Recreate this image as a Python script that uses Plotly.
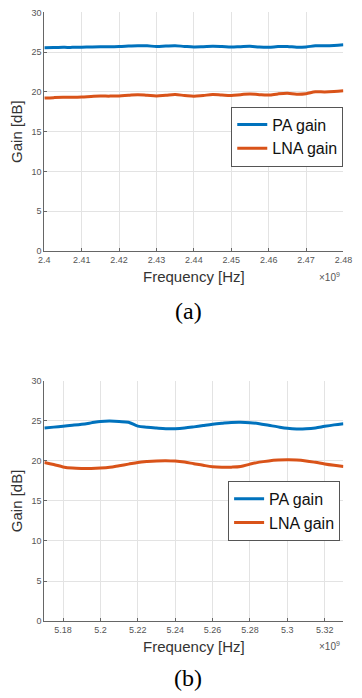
import plotly.graph_objects as go

# ---------------- data (a) 2.4 GHz band ----------------
freq_a_ghz = [2.4000, 2.4025, 2.4050, 2.4075, 2.4100, 2.4125, 2.4150, 2.4175, 2.4200,
              2.4225, 2.4250, 2.4275, 2.4300, 2.4325, 2.4350, 2.4375, 2.4400, 2.4425,
              2.4450, 2.4475, 2.4500, 2.4525, 2.4550, 2.4575, 2.4600, 2.4625, 2.4650,
              2.4675, 2.4700, 2.4725, 2.4750, 2.4775, 2.4800]
pa_gain_a = [25.55, 25.58, 25.60, 25.60, 25.63, 25.66, 25.68, 25.67, 25.70,
             25.76, 25.82, 25.79, 25.72, 25.77, 25.81, 25.72, 25.65, 25.68,
             25.73, 25.70, 25.64, 25.69, 25.73, 25.64, 25.61, 25.70, 25.72,
             25.62, 25.66, 25.80, 25.80, 25.84, 25.92]
lna_gain_a = [19.22, 19.28, 19.32, 19.32, 19.35, 19.42, 19.48, 19.47, 19.50,
              19.58, 19.65, 19.58, 19.50, 19.58, 19.66, 19.55, 19.45, 19.55,
              19.66, 19.60, 19.55, 19.65, 19.75, 19.65, 19.60, 19.75, 19.82,
              19.72, 19.78, 20.02, 20.00, 20.05, 20.15]
ticks_a = [2.40, 2.41, 2.42, 2.43, 2.44, 2.45, 2.46, 2.47, 2.48]
ticklabels_a = ["2.4", "2.41", "2.42", "2.43", "2.44", "2.45", "2.46", "2.47", "2.48"]

# ---------------- data (b) 5 GHz band ----------------
freq_b_ghz = [5.170, 5.175, 5.180, 5.185, 5.190, 5.195, 5.200, 5.205, 5.210, 5.215,
              5.220, 5.225, 5.230, 5.235, 5.240, 5.245, 5.250, 5.255, 5.260, 5.265,
              5.270, 5.275, 5.280, 5.285, 5.290, 5.295, 5.300, 5.305, 5.310, 5.315,
              5.320, 5.325, 5.330]
pa_gain_b = [24.10, 24.22, 24.33, 24.45, 24.58, 24.75, 24.93, 24.97, 24.92, 24.82,
             24.35, 24.20, 24.10, 24.02, 24.02, 24.10, 24.25, 24.42, 24.58, 24.70,
             24.80, 24.82, 24.78, 24.65, 24.45, 24.25, 24.08, 24.00, 24.02, 24.12,
             24.32, 24.50, 24.65]
lna_gain_b = [19.80, 19.55, 19.25, 19.10, 19.05, 19.05, 19.10, 19.20, 19.40, 19.60,
              19.80, 19.92, 20.00, 20.03, 19.98, 19.85, 19.65, 19.45, 19.28, 19.22,
              19.22, 19.30, 19.60, 19.85, 20.00, 20.10, 20.15, 20.12, 20.00, 19.82,
              19.62, 19.45, 19.30]
ticks_b = [5.18, 5.20, 5.22, 5.24, 5.26, 5.28, 5.30, 5.32]
ticklabels_b = ["5.18", "5.2", "5.22", "5.24", "5.26", "5.28", "5.3", "5.32"]

y_ticks = [0, 5, 10, 15, 20, 25, 30]

BLUE = "#0072BD"
ORANGE = "#D95319"
W, H = 362, 698

fig = go.Figure()
line_w = 3

fig.add_trace(go.Scatter(x=freq_a_ghz, y=pa_gain_a, mode="lines", name="PA gain",
                         line=dict(color=BLUE, width=line_w, shape="spline"),
                         xaxis="x", yaxis="y", legend="legend"))
fig.add_trace(go.Scatter(x=freq_a_ghz, y=lna_gain_a, mode="lines", name="LNA gain",
                         line=dict(color=ORANGE, width=line_w, shape="spline"),
                         xaxis="x", yaxis="y", legend="legend"))
fig.add_trace(go.Scatter(x=freq_b_ghz, y=pa_gain_b, mode="lines", name="PA gain",
                         line=dict(color=BLUE, width=line_w, shape="spline"),
                         xaxis="x2", yaxis="y2", legend="legend2"))
fig.add_trace(go.Scatter(x=freq_b_ghz, y=lna_gain_b, mode="lines", name="LNA gain",
                         line=dict(color=ORANGE, width=line_w, shape="spline"),
                         xaxis="x2", yaxis="y2", legend="legend2"))

x0, x1 = 40 / W, 352 / W
ya = [1 - 249.5 / H, 1 - 7.5 / H]
yb = [1 - 625 / H, 1 - 381.3 / H]

tickfont = dict(family="Liberation Sans, Arial", size=9, color="#555555")
titlefont = dict(family="Liberation Sans, Arial", size=15, color="#333333")

common_x = dict(showgrid=True, gridcolor="#e3e3e3", gridwidth=1, zeroline=False,
                showline=True, linecolor="#666666", linewidth=1, ticks="inside",
                ticklen=3, tickcolor="#666666", tickfont=tickfont,
                title=dict(text="Frequency [Hz]", font=titlefont, standoff=7))
common_y = dict(showgrid=True, gridcolor="#e3e3e3", gridwidth=1, zeroline=False,
                showline=True, linecolor="#666666", linewidth=1, ticks="inside",
                ticklen=3, tickcolor="#666666", tickfont=tickfont,
                tickmode="array", tickvals=y_ticks, range=[0, 30],
                title=dict(text="Gain [dB]", font=titlefont, standoff=5))

legend_font = dict(family="Liberation Sans, Arial", size=16, color="#111111")

fig.update_layout(
    width=W, height=H, margin=dict(l=0, r=0, t=0, b=0),
    paper_bgcolor="white", plot_bgcolor="white",
    xaxis=dict(domain=[x0, x1], anchor="y", range=[2.40, 2.48],
               tickmode="array", tickvals=ticks_a, ticktext=ticklabels_a, **common_x),
    yaxis=dict(domain=ya, anchor="x", **common_y),
    xaxis2=dict(domain=[x0, x1], anchor="y2", range=[5.17, 5.33],
                tickmode="array", tickvals=ticks_b, ticktext=ticklabels_b, **common_x),
    yaxis2=dict(domain=yb, anchor="x2", **common_y),
    legend=dict(x=235 / W, y=1 - 103 / H, xanchor="left", yanchor="top",
                bgcolor="white", bordercolor="#555555", borderwidth=1,
                font=legend_font, tracegroupgap=0, itemwidth=30),
    legend2=dict(x=231.7 / W, y=1 - 482.7 / H, xanchor="left", yanchor="top",
                 bgcolor="white", bordercolor="#555555", borderwidth=1,
                 font=legend_font, tracegroupgap=0, itemwidth=30),
    showlegend=True,
)

for yy in [276, 650]:
    fig.add_annotation(xref="paper", yref="paper", x=338 / W, y=1 - yy / H,
                       text="×10<sup>9</sup>", showarrow=False,
                       font=dict(family="Liberation Sans, Arial", size=10, color="#555555"),
                       xanchor="center", yanchor="middle")

for txt, yy in [("(a)", 310), ("(b)", 683)]:
    fig.add_annotation(xref="paper", yref="paper", x=190 / W, y=1 - yy / H, text=txt,
                       showarrow=False, xanchor="center", yanchor="middle",
                       font=dict(family="Liberation Serif, Times New Roman", size=24,
                                 color="black"))

fig.write_html("out.html")
